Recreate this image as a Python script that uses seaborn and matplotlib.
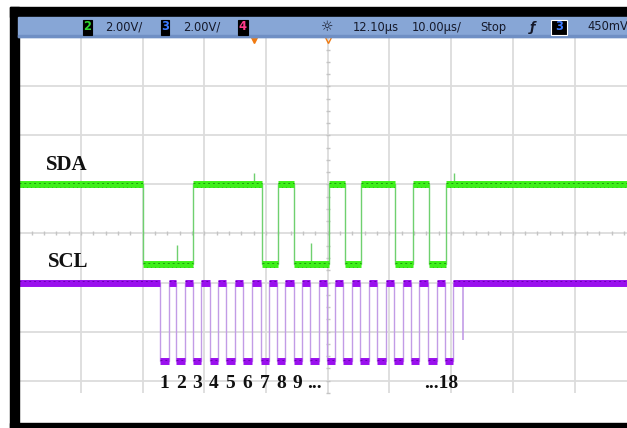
import numpy as np
import pandas as pd
import matplotlib
matplotlib.use("Agg")
import matplotlib.pyplot as plt
import seaborn as sns
from matplotlib.patches import Rectangle

# ---------------- data ----------------
time_center_us = 12.10        # horizontal position
time_per_div_us = 10.0
volt_per_div = 2.0

# SDA (channel 2): edge times in us, starts high, alternating fall/rise
sda_edges_us = [-17.88, -9.80, 1.40, 4.00, 6.69, 12.31, 14.90, 17.50,
                23.01, 25.97, 28.57, 31.27]
sda_high_v = 2.0
sda_low_v = -1.25

# SCL (channel 3): 18 clock pulses (falling / rising edge times in us)
scl_fall_us = [-15.03, -12.41, -9.73, -7.02, -4.33, -1.58, 1.21, 3.88, 6.59,
               9.28, 11.99, 14.66, 17.38, 20.14, 22.89, 25.60, 28.40, 31.11]
scl_rise_us = [-13.68, -11.06, -8.38, -5.67, -2.98, -0.23, 2.56, 5.23, 7.94,
               10.63, 13.34, 16.01, 18.73, 21.49, 24.24, 26.95, 29.75, 32.46]
scl_high_v = -2.0
scl_low_v = -5.22

# short glitches on the traces (time us, base level, tip voltage)
sda_glitch_t = [-12.37, 9.39, 0.16, 32.6]
sda_glitch_base = [-1.25, -1.25, 2.0, 2.0]
sda_glitch_v = [-0.45, -0.40, 2.45, 2.45]
scl_glitch_t = [33.98]
scl_glitch_v = [-4.35]

pulse_labels = ["1", "2", "3", "4", "5", "6", "7", "8", "9"]
last_label = "...18"
signal_names = ["SDA", "SCL"]

header_texts = ["2.00V/", "2.00V/", "12.10\u00b5s", "10.00\u00b5s/", "Stop", "450mV"]

# ---------------- geometry helpers ----------------
W, H = 627, 428
fig = plt.figure(figsize=(W / 100, H / 100), dpi=100)
sns.set_theme(style="white")
plt.rcParams["font.family"] = ["DejaVu Sans"]
fig.patch.set_facecolor("white")

def fx(x):
    return x / W

def fy(y):
    return 1 - y / H

px_per_div_x = 61.7
px_per_div_y = 49.0
x_center_px = 327.7
y_center_px = 233.5

def t_of(xp):
    return time_center_us + (xp - x_center_px) / px_per_div_x * time_per_div_us

def v_of(yp):
    return (y_center_px - yp) / px_per_div_y * volt_per_div

ax = fig.add_axes([fx(19), 1 - 423 / H, fx(627) - fx(19), (423 - 37) / H])
tmin, tmax = t_of(19), t_of(627)
vmin, vmax = v_of(423), v_of(37)
ax.set_xlim(tmin, tmax)
ax.set_ylim(vmin, vmax)
ax.set_axis_off()

# ---------------- graticule ----------------
grid_col = "#dcdcdc"
vgrid = [time_center_us + k * time_per_div_us for k in range(-4, 5)]
hgrid = [k * volt_per_div for k in range(-3, 4)]
ax.vlines(vgrid, v_of(393), vmax, colors=grid_col, lw=1.3, zorder=1)
ax.hlines(hgrid, tmin, tmax, colors=grid_col, lw=1.3, zorder=1)
minor_t = np.arange(time_center_us - 50, tmax, time_per_div_us / 5)
minor_v = np.arange(-6.5, vmax, volt_per_div / 4)
ax.plot(minor_t, np.zeros_like(minor_t), ls="none", marker="|", ms=3.5,
        mew=1.0, color="#c4c4c4", zorder=1)
ax.plot(np.full_like(minor_v, time_center_us), minor_v, ls="none", marker="_",
        ms=3.5, mew=1.0, color="#c4c4c4", zorder=1)

# ---------------- waveforms ----------------
def build_steps(edges, start_high, hi, lo):
    ts, vs, segs = [tmin], [], []
    level = hi if start_high else lo
    vs.append(level)
    prev = tmin
    for e in edges:
        segs.append((prev, e, level))
        ts.append(e); vs.append(level)
        level = lo if level == hi else hi
        ts.append(e); vs.append(level)
        prev = e
    segs.append((prev, tmax, level))
    ts.append(tmax); vs.append(level)
    return pd.DataFrame({"t": ts, "v": vs}), segs

sda_df, sda_segs = build_steps(sda_edges_us, True, sda_high_v, sda_low_v)
scl_edges = [e for pair in zip(scl_fall_us, scl_rise_us) for e in pair]
scl_df, scl_segs = build_steps(scl_edges, True, scl_high_v, scl_low_v)

sda_edge_col, sda_band_col, sda_dark = "#6fd06f", "#3ef01a", "#1f9a10"
scl_edge_col, scl_band_col, scl_dark = "#c29ce6", "#9a10ee", "#6a00b0"

sns.lineplot(data=sda_df, x="t", y="v", sort=False, estimator=None,
             color=sda_edge_col, lw=1.0, ax=ax, zorder=3)
sns.lineplot(data=scl_df, x="t", y="v", sort=False, estimator=None,
             color=scl_edge_col, lw=1.0, ax=ax, zorder=3)

for (a, b, lv) in sda_segs:
    ax.hlines(lv, a, b, colors=sda_band_col, lw=5.0, zorder=4)
    ax.hlines(lv + 0.06, a, b, colors=sda_dark, lw=0.7, linestyles=(0, (2, 3)), zorder=5)
    ax.hlines(lv - 0.10, a, b, colors=sda_dark, lw=0.5, linestyles=(1, (1, 5)), zorder=5)
for (a, b, lv) in scl_segs:
    ax.hlines(lv, a, b, colors=scl_band_col, lw=5.0, zorder=4)
    ax.hlines(lv + 0.06, a, b, colors=scl_dark, lw=0.7, linestyles=(0, (2, 3)), zorder=5)

for t, b, v in zip(sda_glitch_t, sda_glitch_base, sda_glitch_v):
    ax.vlines(t, b, v, colors=sda_edge_col, lw=1.0, zorder=3)
for t, v in zip(scl_glitch_t, scl_glitch_v):
    ax.vlines(t, scl_high_v, v, colors=scl_edge_col, lw=1.2, zorder=3)

# ---------------- annotations ----------------
serif = ["Liberation Serif", "DejaVu Serif"]
ax.text(t_of(46), v_of(170), signal_names[0], family=serif, weight="bold",
        fontsize=15, va="baseline", ha="left", color="#111111", zorder=6)
ax.text(t_of(48), v_of(267), signal_names[1], family=serif, weight="bold",
        fontsize=15, va="baseline", ha="left", color="#111111", zorder=6)

centers = [(f + r) / 2 for f, r in zip(scl_fall_us, scl_rise_us)]
for lab, c in zip(pulse_labels, centers):
    ax.text(c, v_of(388), lab, family=serif, weight="bold", fontsize=14,
            ha="center", va="baseline", color="#111111", zorder=6)
ax.text(centers[8] + 1.5, v_of(388), "...", family=serif, weight="bold",
        fontsize=14, ha="left", va="baseline", color="#111111", zorder=6)
ax.text(centers[-1] + 1.45, v_of(388), last_label, family=serif, weight="bold",
        fontsize=14, ha="right", va="baseline", color="#111111", zorder=6)

# orange markers under the header
ax.plot([t_of(254)], [v_of(39)], marker="v", ms=5.5, color="#f07a10",
        ls="none", clip_on=False, zorder=7)
ax.plot([time_center_us], [v_of(39.5)], marker="v", ms=6, mfc="none",
        mec="#f07a10", mew=1.0, ls="none", clip_on=False, zorder=7)

# ---------------- frame & header bar ----------------
def frect(x0, y0, x1, y1, **kw):
    fig.patches.append(Rectangle((fx(x0), fy(y1)), fx(x1) - fx(x0), fy(y0) - fy(y1),
                                 transform=fig.transFigure, **kw))

frect(10, 7, 627, 17, color="black", zorder=10)
frect(10, 7, 19, 428, color="black", zorder=10)
frect(10, 423, 627, 428, color="black", zorder=10)
frect(18, 17, 627, 37, color="#87a6d6", zorder=10)
frect(18, 35.5, 627, 37, color="#6f8fc4", zorder=10)

tcol = "#15192a"
yb = 27
def htext(x, s, **kw):
    d = dict(fontsize=8.3, va="center", ha="left", color=tcol, zorder=12)
    d.update(kw)
    fig.text(fx(x), fy(yb), s, **d)

def hbox(x0, x1, s, col, edge="black"):
    frect(x0, 19.5, x1, 34.5, facecolor="black", edgecolor=edge, lw=0.8, zorder=11)
    fig.text(fx((x0 + x1) / 2), fy(yb), s, fontsize=8.3, ha="center", va="center",
             color=col, weight="bold", zorder=12)

hbox(82.5, 91.5, "2", "#2fd62f")
htext(105, header_texts[0])
hbox(160.5, 169, "3", "#3d7bff")
htext(183, header_texts[1])
hbox(238, 247.5, "4", "#ff3a8c")
htext(327.5, "\u263c", ha="center", fontsize=10)
htext(353, header_texts[2])
htext(412, header_texts[3])
htext(480, header_texts[4])
htext(532.5, "\u0192", ha="center", fontsize=9, style="italic", weight="bold")
hbox(551, 567, "3", "#3d7bff", edge="white")
htext(587, header_texts[5])

fig.savefig("out.png", dpi=100)
